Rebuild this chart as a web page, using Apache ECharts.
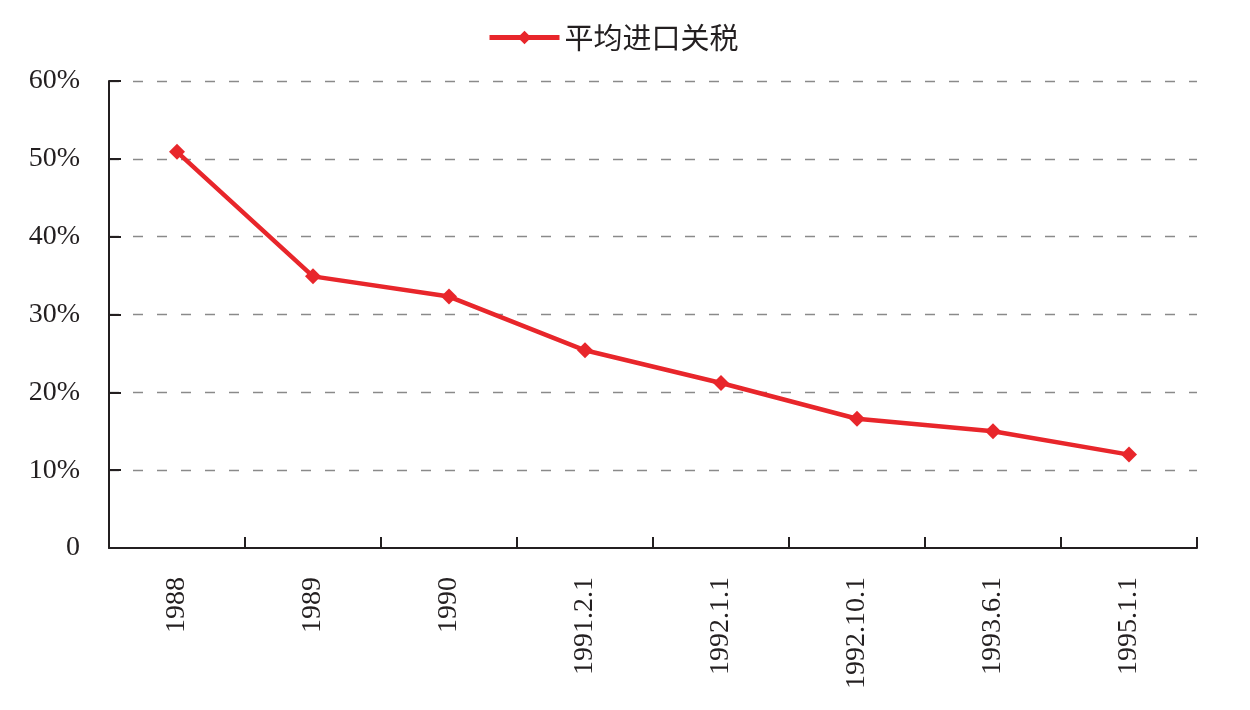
<!DOCTYPE html>
<html><head><meta charset="utf-8">
<script src="https://cdn.jsdelivr.net/npm/echarts@6/dist/echarts.min.js"></script>
<style>html,body{margin:0;padding:0;background:#fff}#c{width:1250px;height:710px}</style>
</head><body><div id="c"></div>
<script>
const categories = ['1988','1989','1990','1991.2.1','1992.1.1','1992.10.1','1993.6.1','1995.1.1'];
const seriesName = '平均进口关税';
const tariffValues = [50.9, 34.9, 32.3, 25.4, 21.2, 16.6, 15.0, 12.0];
const yTicks = [0, 10, 20, 30, 40, 50, 60];

const chart = echarts.init(document.getElementById('c'));
const serif = '"Liberation Serif", "Times New Roman", serif';
chart.setOption({
  animation: false,
  backgroundColor: '#fff',
  legend: {
    top: 18, left: 482,
    itemWidth: 70, itemHeight: 17, itemGap: 10,
    lineStyle: {width: 5},
    textStyle: {fontFamily: '"Noto Sans CJK SC", sans-serif', fontSize: 29, color: '#231f20'},
    data: [seriesName]
  },
  grid: {left: 109, right: 53, top: 81, bottom: 162},
  xAxis: {
    type: 'category', data: categories, boundaryGap: true,
    axisLine: {lineStyle: {color: '#231f20', width: 2}},
    axisTick: {show: true, interval: 0, inside: true, length: 11, lineStyle: {color: '#231f20', width: 2}},
    axisLabel: {interval: 0, rotate: 90, margin: 29, fontFamily: serif, fontSize: 28, color: '#231f20'}
  },
  yAxis: {
    type: 'value', min: 0, max: 60, interval: 10,
    axisLine: {show: true, lineStyle: {color: '#231f20', width: 2}},
    axisTick: {show: true, inside: true, length: 12, lineStyle: {color: '#231f20', width: 2}},
    axisLabel: {margin: 29, fontFamily: serif, fontSize: 28, color: '#231f20',
      formatter: v => v === 0 ? '0' : v + '%'},
    splitLine: {show: true, showMinLine: false, lineStyle: {color: '#8a8a8a', width: 1.3, type: [10, 14]}}
  },
  series: [{
    name: seriesName, type: 'line', data: tariffValues,
    symbol: 'diamond', symbolSize: 16,
    lineStyle: {color: '#e8262b', width: 4.5},
    itemStyle: {color: '#e8262b'}
  }]
});
</script></body></html>
